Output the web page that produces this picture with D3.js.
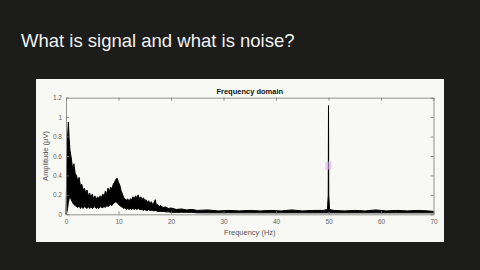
<html>
  <head>
    <title>What is signal and what is noise?</title>
    <script src="https://cdn.jsdelivr.net/npm/d3@7"></script>
    <style>
      body { margin: 0; background: #1c1c1a; }
      svg text { font-family: "Liberation Sans", Arial, sans-serif; }
    </style>
  </head>
  <body>
    <div id="chart"></div>
  </body>
  <script>
    // values: the noisy spectrum as an upper / lower envelope
    var freqs = [0, 0.15, 0.3, 0.45, 0.6, 0.75, 1.0, 1.25, 1.5, 1.75,
      2.0, 2.25, 2.5, 2.75, 3.0, 3.25, 3.5, 3.75, 4.0, 4.25,
      4.5, 4.75, 5.0, 5.25, 5.5, 5.75, 6.0, 6.25, 6.5, 6.75,
      7.0, 7.25, 7.5, 7.75, 8.0, 8.25, 8.5, 8.75, 9.0, 9.25,
      9.5, 9.75, 10.0, 10.25, 10.5, 10.75, 11.0, 11.25, 11.5, 11.75,
      12.0, 12.25, 12.5, 12.75, 13.0, 13.25, 13.5, 13.75, 14.0, 14.25,
      14.5, 14.75, 15.0, 15.25, 15.5, 15.75, 16.0, 16.25, 16.5, 16.75,
      17.0, 17.25, 17.5, 17.75, 18.0, 18.5, 19.0, 19.5, 20, 21,
      22, 23, 24, 25, 27, 29, 31, 33, 35, 37,
      39, 41, 43, 45, 47, 49, 49.8, 49.95, 50, 50.05,
      50.2, 51, 53, 55, 57, 59, 61, 63, 65, 67,
      69, 70];
    var upper = [0, 0.45, 0.80, 0.95, 0.78, 0.66, 0.58, 0.47, 0.52, 0.42,
      0.40, 0.34, 0.38, 0.29, 0.31, 0.25, 0.27, 0.22, 0.25, 0.19,
      0.22, 0.17, 0.21, 0.16, 0.19, 0.15, 0.18, 0.16, 0.19, 0.17,
      0.21, 0.18, 0.24, 0.21, 0.27, 0.23, 0.28, 0.26, 0.31, 0.33,
      0.36, 0.37, 0.33, 0.30, 0.24, 0.21, 0.17, 0.16, 0.14, 0.16,
      0.13, 0.16, 0.15, 0.18, 0.16, 0.19, 0.17, 0.20, 0.16, 0.18,
      0.15, 0.17, 0.14, 0.15, 0.12, 0.14, 0.11, 0.13, 0.10, 0.12,
      0.15, 0.09, 0.10, 0.08, 0.09, 0.07, 0.075, 0.06, 0.065, 0.05,
      0.055, 0.045, 0.05, 0.04, 0.045, 0.035, 0.04, 0.035, 0.04, 0.035,
      0.04, 0.035, 0.045, 0.035, 0.04, 0.04, 0.05, 0.2, 1.12, 0.2,
      0.05, 0.04, 0.035, 0.04, 0.035, 0.045, 0.035, 0.04, 0.035, 0.04,
      0.035, 0.03];
    var lower = [0, 0.02, 0.06, 0.12, 0.16, 0.18, 0.15, 0.12, 0.10, 0.09,
      0.08, 0.07, 0.09, 0.06, 0.08, 0.06, 0.08, 0.07, 0.06, 0.08,
      0.06, 0.08, 0.06, 0.07, 0.08, 0.06, 0.07, 0.06, 0.08, 0.07,
      0.07, 0.08, 0.07, 0.09, 0.08, 0.09, 0.10, 0.09, 0.11, 0.12,
      0.13, 0.12, 0.10, 0.09, 0.08, 0.07, 0.06, 0.07, 0.05, 0.06,
      0.05, 0.06, 0.05, 0.06, 0.05, 0.06, 0.05, 0.06, 0.05, 0.05,
      0.05, 0.04, 0.05, 0.04, 0.04, 0.05, 0.04, 0.04, 0.04, 0.035,
      0.04, 0.035, 0.03, 0.03, 0.03, 0.03, 0.025, 0.025, 0.02, 0.02,
      0.02, 0.02, 0.02, 0.015, 0.015, 0.015, 0.015, 0.015, 0.015, 0.015,
      0.015, 0.015, 0.015, 0.015, 0.015, 0.015, 0.015, 0.015, 0.015, 0.015,
      0.015, 0.015, 0.015, 0.015, 0.015, 0.015, 0.015, 0.015, 0.015, 0.015,
      0.015, 0.015];
    var xTicks = [0, 10, 20, 30, 40, 50, 60, 70];
    var yTicks = [0, 0.2, 0.4, 0.6, 0.8, 1, 1.2];
    var cursorPoint = [50, 0.5];

    var width = 480,
      height = 270;

    var svg = d3
      .select("#chart")
      .append("svg")
      .attr("width", width)
      .attr("height", height);

    svg.append("rect").attr("width", width).attr("height", height).attr("fill", "#1c1c1a");

    svg
      .append("text")
      .attr("x", 21)
      .attr("y", 47)
      .attr("fill", "#f2f2f2")
      .attr("font-size", "18.5px")
      .text("What is signal and what is noise?");

    // white figure panel
    svg
      .append("rect")
      .attr("x", 36)
      .attr("y", 79)
      .attr("width", 408)
      .attr("height", 163)
      .attr("fill", "#f8f8f4");

    var xScale = d3.scaleLinear().domain([0, 70]).range([66, 433.5]);
    var yScale = d3.scaleLinear().domain([0, 1.2]).range([214.3, 97.7]);

    var data = freqs.map((f, i) => ({ f: f, hi: upper[i], lo: lower[i] }));

    var area = d3
      .area()
      .x((d) => xScale(d.f))
      .y0((d) => yScale(d.lo))
      .y1((d) => yScale(d.hi));

    svg
      .append("path")
      .datum(data)
      .attr("fill", "#000")
      .attr("stroke", "#000")
      .attr("stroke-width", 1)
      .attr("stroke-linejoin", "miter")
      .attr("d", area);

    // box + ticks (matlab style, ticks inside)
    var axisColor = "#777";
    var fmt = (d) => String(d);
    var axBottom = svg
      .append("g")
      .attr("transform", "translate(0," + yScale(0) + ")")
      .call(d3.axisBottom(xScale).tickValues(xTicks).tickFormat(fmt).tickSizeInner(-3).tickSizeOuter(0).tickPadding(5));
    var axTop = svg
      .append("g")
      .attr("transform", "translate(0," + yScale(1.2) + ")")
      .call(d3.axisTop(xScale).tickValues(xTicks).tickSizeInner(-3).tickSizeOuter(0).tickFormat(""));
    var axLeft = svg
      .append("g")
      .attr("transform", "translate(" + xScale(0) + ",0)")
      .call(d3.axisLeft(yScale).tickValues(yTicks).tickFormat(fmt).tickSizeInner(-3).tickSizeOuter(0).tickPadding(4));
    var axRight = svg
      .append("g")
      .attr("transform", "translate(" + xScale(70) + ",0)")
      .call(d3.axisRight(yScale).tickValues(yTicks).tickSizeInner(-3).tickSizeOuter(0).tickFormat(""));

    [axBottom, axTop, axLeft, axRight].forEach(function (g) {
      g.select(".domain").attr("stroke", axisColor).attr("stroke-width", 0.8);
      g.selectAll(".tick line").attr("stroke", axisColor).attr("stroke-width", 0.8);
      g.selectAll(".tick text")
        .attr("fill", "#666")
        .attr("font-size", "6.5px")
        .attr("font-family", "Liberation Sans, Arial, sans-serif");
    });

    svg
      .append("text")
      .attr("x", (xScale(0) + xScale(70)) / 2)
      .attr("y", 93.5)
      .attr("text-anchor", "middle")
      .attr("font-weight", "bold")
      .attr("font-size", "7.5px")
      .attr("fill", "#111")
      .text("Frequency domain");

    svg
      .append("text")
      .attr("x", (xScale(0) + xScale(70)) / 2)
      .attr("y", 234.5)
      .attr("text-anchor", "middle")
      .attr("font-size", "7.5px")
      .attr("fill", "#555")
      .text("Frequency (Hz)");

    svg
      .append("text")
      .attr("transform", "translate(48," + (yScale(0) + yScale(1.2)) / 2 + ") rotate(-90)")
      .attr("text-anchor", "middle")
      .attr("font-size", "7.5px")
      .attr("fill", "#555")
      .text("Amplitude (μV)");

    // faint data cursor marker on the 50 Hz line
    svg
      .append("rect")
      .attr("x", xScale(cursorPoint[0]) - 3)
      .attr("y", yScale(cursorPoint[1]) - 4)
      .attr("width", 6)
      .attr("height", 8)
      .attr("fill", "#d9b8ea")
      .attr("opacity", 0.6);
  </script>
</html>
